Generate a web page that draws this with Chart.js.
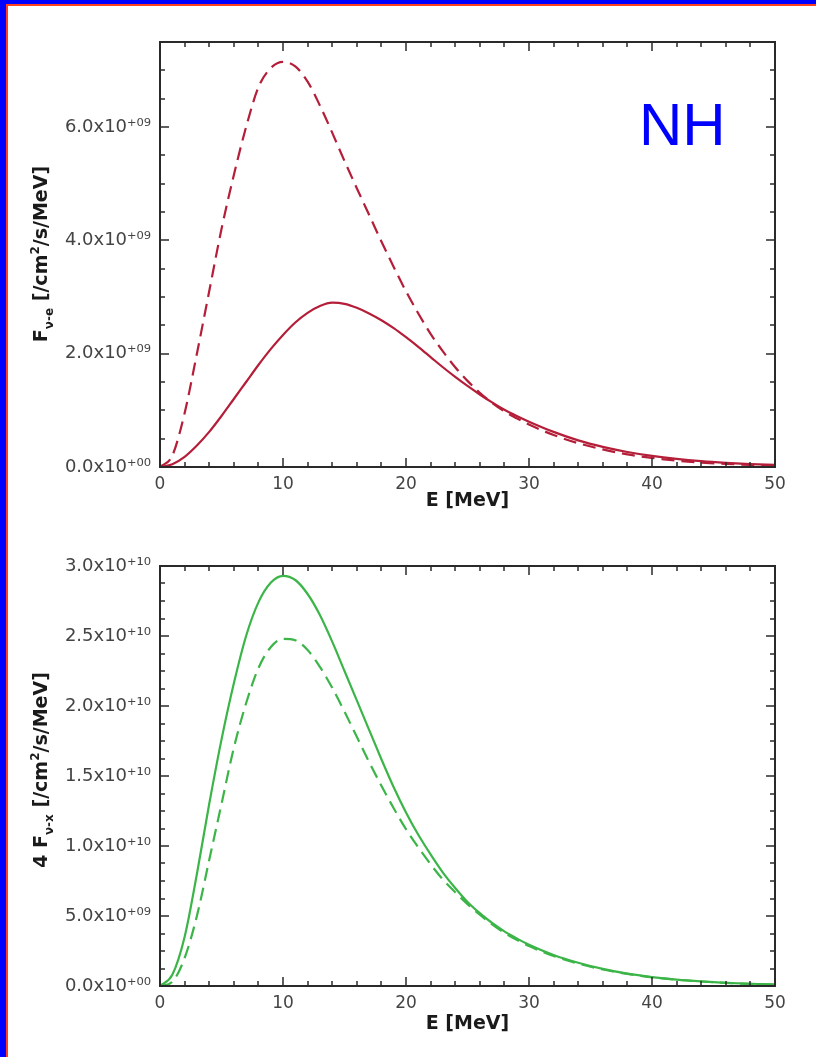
<!DOCTYPE html>
<html>
<head>
<meta charset="utf-8">
<script src="https://cdn.jsdelivr.net/npm/chart.js@4.4.1/dist/chart.umd.min.js"></script>
<style>
html,body{margin:0;padding:0;background:#fff;}
body{width:816px;height:1057px;position:relative;overflow:hidden;}
.wrap{position:absolute;left:0;width:816px;}
.bar{position:absolute;z-index:5;}
</style>
</head>
<body>
<div class="bar" style="left:0;top:0;width:816px;height:4px;background:#0000ff"></div>
<div class="bar" style="left:6px;top:4px;width:810px;height:2px;background:#ff4020"></div>
<div class="bar" style="left:0;top:0;width:6px;height:1057px;background:#0000ff"></div>
<div class="bar" style="left:6px;top:4px;width:2px;height:1053px;background:#ff4020"></div>
<div class="wrap" style="top:0;height:520px"><canvas id="cTop" width="816" height="520"></canvas></div>
<div class="wrap" style="top:520px;height:537px"><canvas id="cBot" width="816" height="537"></canvas></div>
<script>
// ---------- data ----------
const energy = [0,1,2,3,4,5,6,7,8,9,10,11,12,13,14,15,16,17,18,19,20,21,22,23,24,25,26,27,28,29,30,32,34,36,38,40,42,44,46,48,50];

// top panel, nu_e flux in units of 1e9 /cm2/s/MeV
const topUnit = 1e9;
const redSolid  = [0,0.05,0.18,0.38,0.62,0.9,1.2,1.5,1.8,2.08,2.33,2.55,2.72,2.84,2.9,2.88,2.81,2.71,2.59,2.45,2.29,2.12,1.94,1.76,1.59,1.43,1.28,1.14,1.01,0.9,0.8,0.62,0.47,0.355,0.265,0.195,0.142,0.102,0.073,0.051,0.036];
const redDashed = [0,0.2,0.95,2.0,3.1,4.2,5.15,6.0,6.7,7.04,7.15,7.07,6.8,6.38,5.9,5.4,4.92,4.45,3.98,3.53,3.1,2.71,2.35,2.04,1.76,1.52,1.31,1.13,0.98,0.86,0.75,0.565,0.42,0.31,0.222,0.16,0.112,0.079,0.055,0.038,0.026];

// bottom panel, 4 nu_x flux in units of 1e10 /cm2/s/MeV
const botUnit = 1e10;
const greenSolid  = [0,0.08,0.35,0.8,1.3,1.76,2.16,2.5,2.74,2.88,2.93,2.9,2.8,2.65,2.46,2.25,2.04,1.83,1.62,1.42,1.24,1.08,0.94,0.81,0.7,0.6,0.52,0.45,0.39,0.34,0.295,0.222,0.166,0.122,0.088,0.064,0.046,0.033,0.023,0.016,0.011];
const greenDashed = [0,0.03,0.2,0.5,0.9,1.3,1.7,2.02,2.27,2.42,2.48,2.47,2.4,2.28,2.13,1.96,1.78,1.6,1.43,1.27,1.12,0.99,0.87,0.76,0.67,0.585,0.51,0.44,0.38,0.33,0.285,0.214,0.16,0.118,0.086,0.062,0.045,0.032,0.022,0.015,0.01];

// axes / ticks
const xTicks = [0,10,20,30,40,50];
const yTicksTop = [0,2e9,4e9,6e9];
const yLabelsTop = ['0.0x10\u207A\u2070\u2070','2.0x10\u207A\u2070\u2079','4.0x10\u207A\u2070\u2079','6.0x10\u207A\u2070\u2079'];
const yTicksBot = [0,5e9,1e10,1.5e10,2e10,2.5e10,3e10];
const yLabelsBot = ['0.0x10\u207A\u2070\u2070','5.0x10\u207A\u2070\u2079','1.0x10\u207A\u00B9\u2070','1.5x10\u207A\u00B9\u2070','2.0x10\u207A\u00B9\u2070','2.5x10\u207A\u00B9\u2070','3.0x10\u207A\u00B9\u2070'];
const xTitle = 'E [MeV]';
const yTitleTop = [{t:'F',s:19},{t:'\u03BD-e',s:12,dy:6},{t:' [/cm',s:19},{t:'2',s:12,dy:-8},{t:'/s/MeV]',s:19}];
const yTitleBot = [{t:'4 F',s:19},{t:'\u03BD-x',s:12,dy:6},{t:' [/cm',s:19},{t:'2',s:12,dy:-8},{t:'/s/MeV]',s:19}];

const RED = '#b41e38';
const GREEN = '#3cb548';
const FONT = "'DejaVu Sans', sans-serif";

function pts(vals, unit){ return energy.map((e,i)=>({x:e, y:vals[i]*unit})); }

function range(a,b,step){ const r=[]; for(let v=a; v<=b+1e-9*Math.abs(step); v+=step) r.push(v); return r; }

function framePlugin(cfg){
  return {
    id:'frame_'+cfg.id,
    afterDatasetsDraw(chart){
      const {ctx, chartArea:a, scales:{x,y}} = chart;
      ctx.save();
      ctx.strokeStyle = '#2a2a2a';
      ctx.lineWidth = 2;
      ctx.strokeRect(a.left, a.top, a.right-a.left, a.bottom-a.top);
      ctx.lineWidth = 1.5;
      const ln=(x1,y1,x2,y2)=>{ctx.beginPath();ctx.moveTo(x1,y1);ctx.lineTo(x2,y2);ctx.stroke();};
      for(const v of range(0,50,2)){
        const px = Math.round(x.getPixelForValue(v));
        const L = (v%10===0)?9:5;
        ln(px,a.bottom,px,a.bottom-L); ln(px,a.top,px,a.top+L);
      }
      for(const v of cfg.yMinor){
        const py = Math.round(y.getPixelForValue(v));
        const L = cfg.yMajor.some(m=>Math.abs(m-v)<1)?9:5;
        ln(a.left,py,a.left+L,py); ln(a.right,py,a.right-L,py);
      }
      ctx.restore();
      // rotated y title with sub/superscripts
      ctx.save();
      ctx.fillStyle = '#1a1a1a';
      ctx.textBaseline = 'alphabetic';
      let w = 0;
      for(const p of cfg.yTitle){ ctx.font = 'bold '+p.s+'px '+FONT; w += ctx.measureText(p.t).width; }
      ctx.translate(cfg.titleX, cfg.titleY);
      ctx.rotate(-Math.PI/2);
      let cx = -w/2;
      for(const p of cfg.yTitle){
        ctx.font = 'bold '+p.s+'px '+FONT;
        ctx.fillText(p.t, cx, 7 + (p.dy||0));
        cx += ctx.measureText(p.t).width;
      }
      ctx.restore();
      if(cfg.extra) cfg.extra(ctx);
    }
  };
}

function makeChart(id, ds, yMax, yTicks, yLabels, padTop, padBottom, xAxisH, cfg){
  return new Chart(document.getElementById(id), {
    type:'line',
    data:{ datasets: ds },
    options:{
      responsive:false,
      animation:false,
      events:[],
      layout:{ padding:{ left:0, right:41, top:padTop, bottom:padBottom } },
      plugins:{ legend:{display:false}, tooltip:{enabled:false} },
      elements:{ point:{radius:0}, line:{cubicInterpolationMode:'monotone', borderWidth:2.2} },
      scales:{
        x:{
          type:'linear', min:0, max:50,
          grid:{display:false}, border:{display:false},
          afterBuildTicks(s){ s.ticks = xTicks.map(v=>({value:v})); },
          afterFit(s){ s.height = xAxisH; },
          ticks:{ padding:-1, font:{family:FONT,size:17}, color:'#444', maxRotation:0, callback:(v)=>String(v) },
          title:{ display:true, text:xTitle, padding:0, color:'#1a1a1a', font:{family:FONT,size:19,weight:'bold'} }
        },
        y:{
          type:'linear', min:0, max:yMax,
          grid:{display:false}, border:{display:false},
          afterBuildTicks(s){ s.ticks = yTicks.map(v=>({value:v})); },
          afterFit(s){ s.width = 160; },
          ticks:{ padding:1, font:{family:FONT,size:18}, color:'#444',
                  callback:(v)=>{ const i = yTicks.findIndex(t=>Math.abs(t-v)<1); return i>=0?yLabels[i]:''; } }
        }
      }
    },
    plugins:[framePlugin(cfg)]
  });
}

makeChart('cTop', [
  { data: pts(redDashed, topUnit), borderColor:RED, borderDash:[13,7], fill:false },
  { data: pts(redSolid, topUnit), borderColor:RED, fill:false }
], 7.5e9, yTicksTop, yLabelsTop, 42, 8, 45, {
  id:'top', yMajor:yTicksTop, yMinor:range(0,7.5e9,0.5e9), yTitle:yTitleTop, titleX:40, titleY:254,
  extra(ctx){ ctx.save(); ctx.fillStyle='#0000ff'; ctx.font="60px 'Liberation Sans', Arial, sans-serif"; ctx.textBaseline='alphabetic'; ctx.fillText('NH', 639, 145); ctx.restore(); }
});

makeChart('cBot', [
  { data: pts(greenDashed, botUnit), borderColor:GREEN, borderDash:[13,7], fill:false },
  { data: pts(greenSolid, botUnit), borderColor:GREEN, fill:false }
], 3e10, yTicksBot, yLabelsBot, 46, 22, 49, {
  id:'bot', yMajor:yTicksBot, yMinor:range(0,3e10,0.125e10), yTitle:yTitleBot, titleX:40, titleY:250
});
</script>
</body>
</html>
